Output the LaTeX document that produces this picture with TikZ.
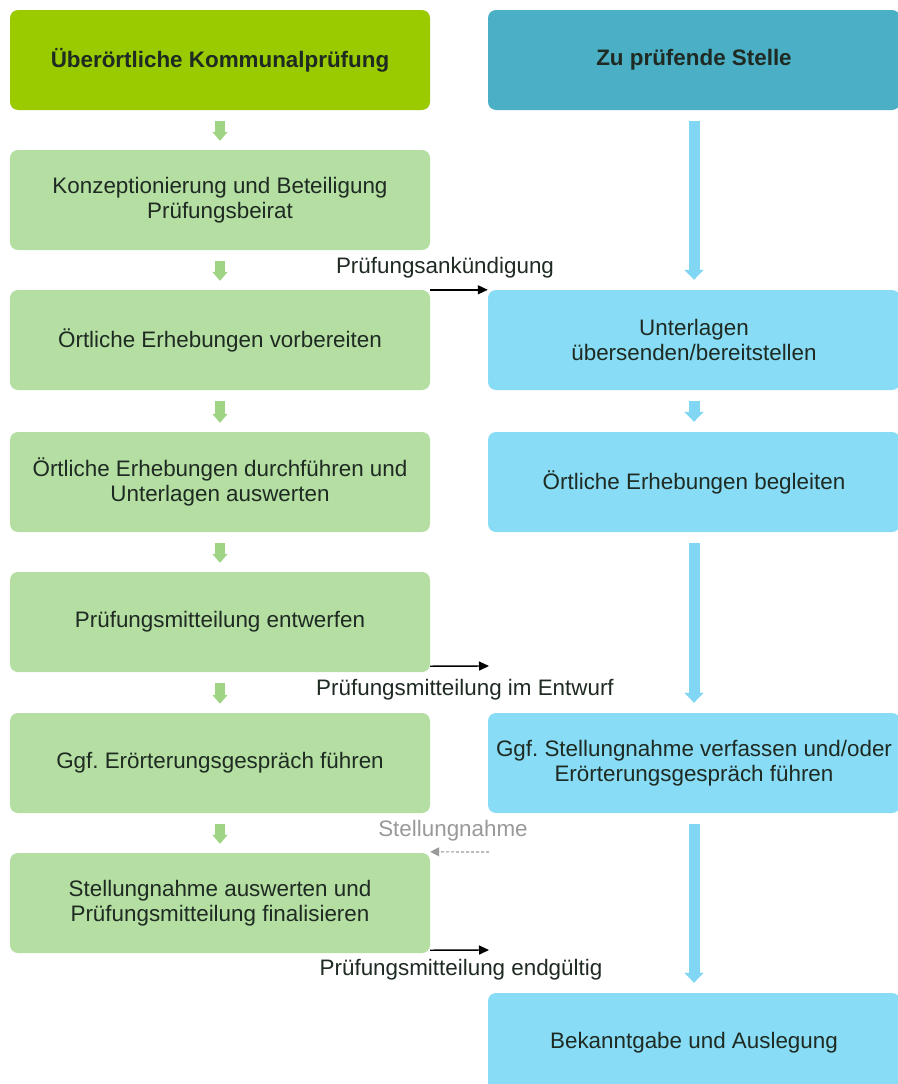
\documentclass[tikz,border=0pt]{standalone}
\usepackage{fontspec}
\setmainfont{Liberation Sans}
\usepackage{tikz}
\usetikzlibrary{arrows.meta}
\frenchspacing

\definecolor{kopfgruen}{HTML}{9ACB00}
\definecolor{kopfblau}{HTML}{4BB0C6}
\definecolor{hellgruen}{HTML}{B4DEA2}
\definecolor{hellblau}{HTML}{88DCF5}
\definecolor{pfeilgruen}{HTML}{9FD484}
\definecolor{pfeilblau}{HTML}{80D6F3}
\definecolor{schrift}{HTML}{1E2A22}

\tikzset{
	box/.style={rounded corners=8pt, minimum width=420pt, minimum height=100pt, inner sep=0pt, align=center, text=schrift, font=\fontsize{22.4}{25}\selectfont},
	kopf/.style={box, font=\fontsize{22.4}{25}\selectfont\bfseries},
	gruenbox/.style={box, fill=hellgruen},
	blaubox/.style={box, fill=hellblau, minimum width=412pt},
	gruenpfeil/.style={draw=pfeilgruen, line width=10pt, -{Triangle[width=15pt,length=9pt]}, shorten <=11pt, shorten >=9pt},
	blaupfeil/.style={draw=pfeilblau, line width=11pt, -{Triangle[width=19pt,length=10pt]}, shorten <=11pt, shorten >=10pt},
	botenpfeil/.style={line width=1.4pt, -{Triangle[width=9pt,length=10pt]}},
	rueckpfeil/.style={draw=gray!80, line width=1.2pt, dash pattern=on 3pt off 2pt, -{Triangle[width=9pt,length=9pt]}},
	bote/.style={font=\fontsize{22.4}{25}\selectfont, text=schrift}
}

\begin{document}
\begin{tikzpicture}[x=1pt, y=-1pt]
	\useasboundingbox (0,0) rectangle (897,1084);
	\node [kopf, fill=kopfgruen] (KP) at (220,60) {Überörtliche Kommunalprüfung};
	\node [kopf, fill=kopfblau, minimum width=412pt] (ZS) at (694,60) {Zu prüfende Stelle};
	\node [gruenbox] (K1) at (220,200) {Konzeptionierung und Beteiligung\\Prüfungsbeirat};
	\node [gruenbox] (K2) at (220,340) {Örtliche Erhebungen vorbereiten};
	\node [gruenbox] (K3) at (220,482) {Örtliche Erhebungen durchführen und\\Unterlagen auswerten};
	\node [gruenbox] (K4) at (220,622) {Prüfungsmitteilung entwerfen};
	\node [gruenbox] (K5) at (220,763) {Ggf. Erörterungsgespräch führen};
	\node [gruenbox] (K6) at (220,903) {Stellungnahme auswerten und\\Prüfungsmitteilung finalisieren};
	\node [blaubox] (S1) at (694,340) {Unterlagen\\übersenden/bereitstellen};
	\node [blaubox] (S2) at (694,482) {Örtliche Erhebungen begleiten};
	\node [blaubox] (S3) at (694,763) {Ggf. Stellungnahme verfassen und/oder\\Erörterungsgespräch führen};
	\node [blaubox] (S4) at (694,1043) {Bekanntgabe und Auslegung};
	\foreach \a/\b in {KP/K1, K1/K2, K2/K3, K3/K4, K4/K5, K5/K6}
		\draw [gruenpfeil] (\a) -- (\b);
	\foreach \a/\b in {ZS/S1, S1/S2, S2/S3, S3/S4}
		\draw [blaupfeil] (\a) -- (\b);
	\coordinate (E2) at (489,666);
	\coordinate (D1) at (489,852);
	\coordinate (E3) at (489,950);
	\draw [botenpfeil] (K2.north east) -- (S1.north west);
	\draw [botenpfeil] ([yshift=6pt]K4.south east) -- (E2);
	\draw [rueckpfeil] (D1) -- ([yshift=1pt]K6.north east);
	\draw [botenpfeil] ([yshift=3pt]K6.south east) -- (E3);
	\node [bote] (L1) at (445,268) {Prüfungsankündigung};
	\node [bote] (L2) at (465,690) {Prüfungsmitteilung im Entwurf};
	\node [bote, text=gray!80] (L3) at (453,831) {Stellungnahme};
	\node [bote] (L4) at (461,970) {Prüfungsmitteilung endgültig};
\end{tikzpicture}
\end{document}
